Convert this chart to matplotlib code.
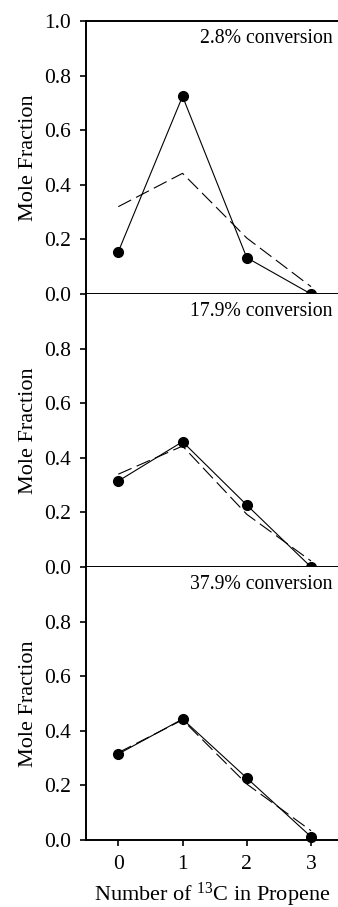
import matplotlib
matplotlib.use("Agg")
import matplotlib.pyplot as plt

plt.rcParams["font.family"] = ["Liberation Serif", "DejaVu Serif"]
plt.rcParams["mathtext.fontset"] = "custom"
plt.rcParams["mathtext.rm"] = "Liberation Serif"
plt.rcParams["mathtext.it"] = "Liberation Serif:italic"

# number of 13C atoms in propene
n_13c = [0, 1, 2, 3]

# measured mole fractions (solid line with dots)
measured_28 = [0.155, 0.724, 0.133, 0.0]
measured_179 = [0.315, 0.459, 0.227, 0.0]
measured_379 = [0.315, 0.443, 0.227, 0.012]

# calculated distribution (dashed line)
calc_28 = [0.32, 0.442, 0.205, 0.027]
calc_179 = [0.34, 0.443, 0.193, 0.022]
calc_379 = [0.32, 0.44, 0.205, 0.034]

labels = ["2.8% conversion", "17.9% conversion", "37.9% conversion"]
measured = [measured_28, measured_179, measured_379]
calc = [calc_28, calc_179, calc_379]

fig = plt.figure(figsize=(3.38, 9.07), dpi=100)
left = 86 / 338
width = 1 - left
h = 273 / 907
bottoms = [1 - 294 / 907, 1 - 567 / 907, 1 - 840 / 907]

for i in range(3):
    ax = fig.add_axes([left, bottoms[i], width, h])
    ax.plot(n_13c, measured[i], color="black", lw=0.8, marker="o",
            markersize=7, clip_on=False, zorder=3)
    line, = ax.plot(n_13c, calc[i], color="black", lw=0.8, clip_on=False)
    line.set_dashes((13, 5))

    ax.set_xlim(-0.503, 3.42)
    ax.set_ylim(0, 1.0)
    if i == 0:
        ax.set_yticks([0.0, 0.2, 0.4, 0.6, 0.8, 1.0])
    else:
        ax.set_yticks([0.0, 0.2, 0.4, 0.6, 0.8])
    ax.set_yticklabels(["%.1f" % t for t in ax.get_yticks()])

    ax.spines["right"].set_visible(False)
    ax.spines["top"].set_visible(i == 0)
    for s in ax.spines.values():
        s.set_linewidth(1.4)

    ax.tick_params(axis="y", direction="out", length=4, width=1.2,
                   pad=7, labelsize=15.5)
    if i == 2:
        ax.set_xticks(n_13c)
        ax.tick_params(axis="x", direction="out", length=4, width=1.2,
                       pad=7, labelsize=15.5)
        ax.set_xlabel(r"Number of $^{\mathrm{13}}$C in Propene",
                      fontsize=16, labelpad=5)
    else:
        ax.set_xticks([])

    ax.set_ylabel("Mole Fraction", fontsize=16, labelpad=4)
    ax.text(0.98, 0.935, labels[i], transform=ax.transAxes,
            ha="right", va="center", fontsize=14.2)

fig.savefig("out.png", dpi=100)
